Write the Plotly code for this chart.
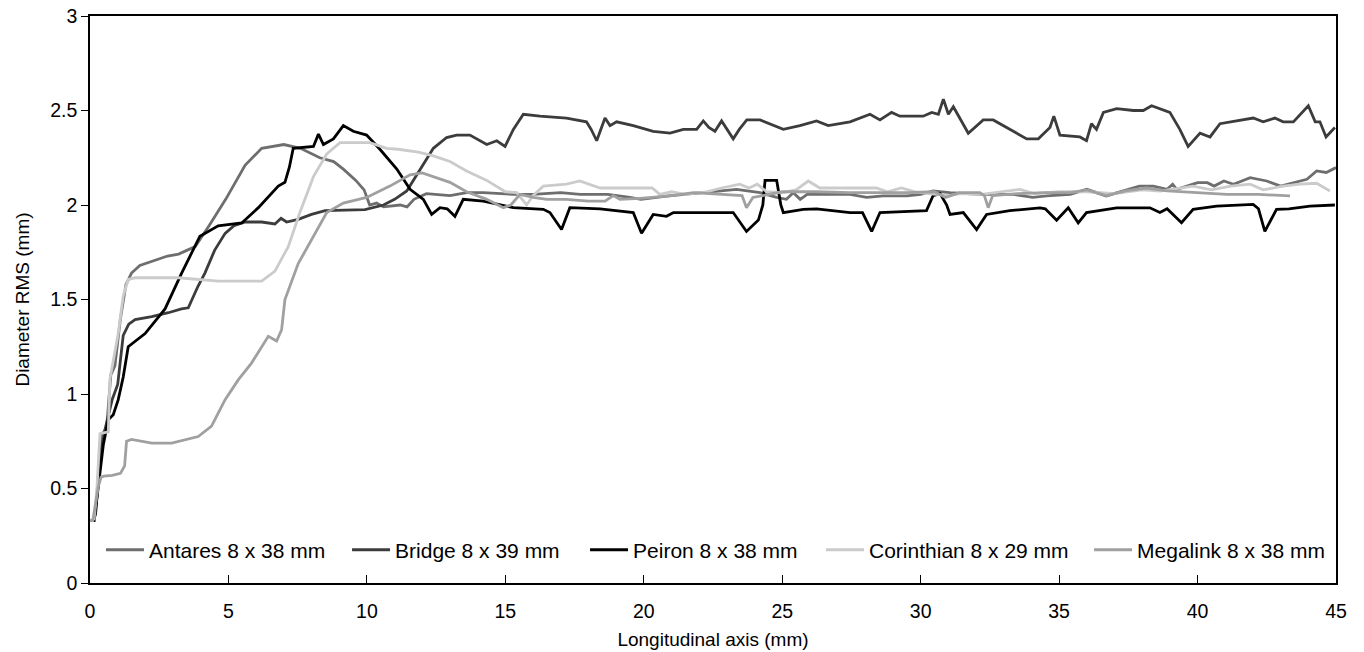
import plotly.graph_objects as go

# ---------------- data ----------------
names = ["Antares 8 x 38 mm", "Bridge 8 x 39 mm", "Peiron 8 x 38 mm",
         "Corinthian 8 x 29 mm", "Megalink 8 x 38 mm"]
colors = ["#6e6e6e", "#3c3c3c", "#000000", "#cbcbcb", "#a0a0a0"]

antares = [(0, 0.33), (0.1, 0.33), (0.2, 0.36), (0.3, 0.55), (0.4, 0.78), (0.6, 0.82), (0.75, 1.1),
           (0.9, 1.15), (1.1, 1.4), (1.3, 1.58), (1.5, 1.64), (1.8, 1.68), (2.2, 1.70), (2.8, 1.73),
           (3.2, 1.74), (3.8, 1.78), (4.3, 1.89), (4.9, 2.03), (5.6, 2.21), (6.2, 2.30), (7.0, 2.32),
           (7.6, 2.30), (8.3, 2.25), (8.8, 2.23), (9.15, 2.19), (9.6, 2.13), (9.9, 2.08), (10.1, 2.00),
           (10.35, 2.01), (10.6, 1.99), (11.2, 2.00), (11.45, 1.99), (11.7, 2.03), (12.15, 2.06),
           (13.0, 2.05), (13.6, 2.065), (14.2, 2.065), (15.3, 2.056), (16.0, 2.056), (17.0, 2.065),
           (17.7, 2.056), (18.7, 2.056), (19.5, 2.04), (19.9, 2.03), (20.9, 2.048), (22.2, 2.065),
           (23.35, 2.083), (24.2, 2.065), (24.8, 2.04), (25.15, 2.03), (25.4, 2.065), (25.65, 2.03),
           (25.9, 2.056), (27.45, 2.056), (28.05, 2.04), (28.65, 2.048), (29.5, 2.048), (30.0, 2.056),
           (30.45, 2.074), (31.05, 2.065), (32.15, 2.056), (33.35, 2.056), (34.05, 2.04), (34.55, 2.048),
           (35.4, 2.056), (36.0, 2.083), (36.7, 2.048), (37.9, 2.10), (38.4, 2.10), (38.9, 2.083),
           (39.1, 2.11), (39.25, 2.083), (40.0, 2.118), (40.35, 2.118), (40.6, 2.10), (40.95, 2.127),
           (41.3, 2.11), (41.9, 2.145), (42.5, 2.127), (43.0, 2.10), (43.45, 2.118), (43.95, 2.136),
           (44.3, 2.18), (44.65, 2.172), (45.0, 2.198)]

bridge = [(0, 0.33), (0.1, 0.33), (0.2, 0.37), (0.3, 0.52), (0.4, 0.7), (0.54, 0.81), (0.7, 0.9),
          (0.8, 0.97), (1.0, 1.05), (1.1, 1.2), (1.2, 1.31), (1.4, 1.37), (1.63, 1.394), (2.23, 1.41),
          (2.83, 1.43), (3.3, 1.45), (3.55, 1.456), (3.9, 1.57), (4.15, 1.64), (4.5, 1.76), (4.88, 1.85),
          (5.2, 1.89), (5.6, 1.91), (6.2, 1.91), (6.68, 1.90), (6.9, 1.93), (7.1, 1.91), (7.52, 1.924),
          (8.0, 1.95), (8.49, 1.97), (9.4, 1.975), (9.93, 1.975), (10.6, 2.0), (11.0, 2.03), (11.44, 2.074),
          (11.92, 2.19), (12.4, 2.30), (12.88, 2.357), (13.24, 2.37), (13.72, 2.37), (14.33, 2.32),
          (14.69, 2.34), (14.99, 2.31), (15.29, 2.40), (15.65, 2.48), (16.25, 2.47), (17.21, 2.46),
          (17.93, 2.44), (18.1, 2.40), (18.3, 2.34), (18.45, 2.40), (18.6, 2.46), (18.78, 2.42),
          (19.02, 2.44), (19.62, 2.42), (20.34, 2.39), (20.95, 2.38), (21.43, 2.40), (21.91, 2.40),
          (22.15, 2.445), (22.35, 2.41), (22.57, 2.39), (22.81, 2.445), (23.0, 2.40), (23.23, 2.35),
          (23.45, 2.40), (23.72, 2.45), (24.2, 2.45), (25.04, 2.40), (25.64, 2.42), (26.24, 2.445),
          (26.66, 2.42), (27.0, 2.43), (27.45, 2.44), (28.17, 2.48), (28.53, 2.45), (28.95, 2.49),
          (29.25, 2.47), (30.09, 2.47), (30.4, 2.49), (30.64, 2.48), (30.82, 2.56), (31.0, 2.48),
          (31.18, 2.52), (31.72, 2.38), (32.26, 2.45), (32.62, 2.45), (33.83, 2.35), (34.25, 2.35),
          (34.67, 2.41), (34.81, 2.47), (35.03, 2.37), (35.75, 2.36), (35.99, 2.34), (36.17, 2.43),
          (36.35, 2.40), (36.6, 2.49), (37.08, 2.51), (37.68, 2.50), (38.04, 2.50), (38.34, 2.525),
          (39.0, 2.49), (39.36, 2.40), (39.66, 2.31), (40.09, 2.38), (40.45, 2.36), (40.81, 2.43),
          (41.41, 2.445), (42.01, 2.46), (42.37, 2.44), (42.79, 2.46), (43.09, 2.44), (43.46, 2.44),
          (44.0, 2.525), (44.25, 2.44), (44.42, 2.44), (44.64, 2.36), (44.96, 2.41)]

peiron = [(0, 0.33), (0.15, 0.33), (0.3, 0.51), (0.48, 0.73), (0.66, 0.864), (0.84, 0.89), (1.02, 0.97),
          (1.2, 1.09), (1.38, 1.25), (1.99, 1.32), (2.71, 1.45), (3.31, 1.64), (3.97, 1.835), (4.63, 1.89),
          (5.48, 1.905), (6.08, 1.986), (6.8, 2.10), (7.04, 2.12), (7.2, 2.2), (7.34, 2.30), (8.07, 2.31),
          (8.25, 2.375), (8.43, 2.32), (8.79, 2.35), (9.15, 2.42), (9.51, 2.39), (9.99, 2.37),
          (10.47, 2.295), (11.08, 2.19), (11.56, 2.083), (12.04, 2.03), (12.34, 1.95), (12.64, 1.986),
          (12.9, 1.98), (13.18, 1.94), (13.48, 2.03), (14.2, 2.02), (15.29, 1.986), (16.37, 1.977),
          (16.61, 1.96), (17.03, 1.87), (17.33, 1.986), (18.42, 1.98), (19.62, 1.96), (19.92, 1.85),
          (20.34, 1.95), (20.82, 1.94), (21.07, 1.96), (23.23, 1.96), (23.71, 1.86), (24.14, 1.92),
          (24.3, 2.0), (24.38, 2.13), (24.8, 2.13), (24.95, 2.0), (25.04, 1.96), (25.76, 1.977),
          (26.24, 1.98), (27.45, 1.96), (27.9, 1.96), (28.23, 1.86), (28.53, 1.96), (30.21, 1.97),
          (30.45, 2.05), (30.7, 2.06), (30.94, 2.0), (31.06, 1.95), (31.54, 1.96), (32.02, 1.87),
          (32.38, 1.95), (33.22, 1.97), (34.31, 1.985), (34.5, 1.98), (34.91, 1.92), (35.33, 1.985),
          (35.69, 1.906), (35.99, 1.96), (37.08, 1.985), (38.28, 1.985), (38.64, 1.96), (38.9, 1.98),
          (39.42, 1.906), (39.84, 1.977), (40.69, 1.994), (42.01, 2.003), (42.2, 1.98), (42.43, 1.86),
          (42.85, 1.977), (43.3, 1.98), (44.06, 1.994), (44.96, 2.0)]

corinthian = [(0, 0.33), (0.15, 0.34), (0.25, 0.5), (0.36, 0.79), (0.66, 0.80), (0.72, 1.08), (1.02, 1.32),
              (1.2, 1.52), (1.38, 1.606), (1.63, 1.615), (3.19, 1.615), (4.63, 1.597), (6.2, 1.597),
              (6.68, 1.65), (7.16, 1.78), (7.58, 1.96), (8.07, 2.15), (8.55, 2.27), (9.03, 2.33),
              (10.11, 2.33), (10.71, 2.30), (11.13, 2.295), (11.86, 2.28), (12.4, 2.26), (13.0, 2.23),
              (13.6, 2.18), (14.33, 2.13), (15.0, 2.07), (15.41, 2.065), (15.77, 2.0), (16.0, 2.05),
              (16.37, 2.10), (17.21, 2.11), (17.69, 2.127), (18.42, 2.09), (19.5, 2.09), (20.3, 2.09),
              (20.58, 2.056), (21.0, 2.07), (21.5, 2.056), (22.27, 2.07), (22.8, 2.09), (23.47, 2.11),
              (23.8, 2.09), (24.1, 2.11), (24.44, 2.07), (25.0, 2.065), (25.5, 2.08), (25.94, 2.127),
              (26.36, 2.09), (27.0, 2.09), (27.81, 2.09), (28.4, 2.09), (28.8, 2.07), (29.3, 2.09),
              (29.8, 2.07), (30.3, 2.06), (31.0, 2.05), (31.42, 2.06), (32.2, 2.056), (33.0, 2.07),
              (33.59, 2.083), (34.1, 2.06), (35.0, 2.07), (36.0, 2.07), (37.0, 2.06), (38.0, 2.08),
              (38.64, 2.074), (39.84, 2.10), (40.5, 2.08), (41.2, 2.10), (41.9, 2.11), (42.37, 2.08),
              (43.09, 2.10), (43.7, 2.11), (44.3, 2.115), (44.78, 2.074)]

megalink = [(0, 0.33), (0.1, 0.33), (0.2, 0.42), (0.3, 0.51), (0.4, 0.56), (0.5, 0.565), (0.8, 0.57),
            (1.1, 0.58), (1.25, 0.62), (1.32, 0.75), (1.5, 0.76), (2.23, 0.74), (2.95, 0.74), (3.5, 0.76),
            (3.91, 0.775), (4.39, 0.83), (4.88, 0.97), (5.36, 1.076), (5.84, 1.165), (6.44, 1.305),
            (6.74, 1.28), (6.92, 1.34), (7.04, 1.50), (7.52, 1.69), (8.19, 1.87), (8.55, 1.96),
            (9.15, 2.01), (9.99, 2.04), (10.83, 2.10), (11.56, 2.16), (12.0, 2.17), (12.4, 2.15),
            (13.0, 2.12), (13.6, 2.07), (14.33, 2.03), (14.93, 1.986), (15.2, 2.0), (15.53, 2.056),
            (16.0, 2.04), (16.5, 2.03), (17.2, 2.03), (18.0, 2.02), (18.6, 2.02), (18.9, 2.05),
            (19.14, 2.03), (19.86, 2.035), (20.95, 2.048), (21.8, 2.065), (22.5, 2.06), (23.3, 2.055),
            (23.55, 2.05), (23.71, 1.986), (23.94, 2.04), (24.3, 2.05), (25.0, 2.07), (26.2, 2.07),
            (27.45, 2.065), (28.5, 2.065), (29.5, 2.065), (30.5, 2.07), (30.9, 2.04), (31.4, 2.065),
            (32.14, 2.065), (32.3, 2.05), (32.44, 1.986), (32.6, 2.05), (33.5, 2.06), (34.5, 2.065),
            (35.4, 2.065), (36.0, 2.08), (36.71, 2.05), (37.4, 2.075), (38.16, 2.09), (38.9, 2.075),
            (39.84, 2.065), (41.05, 2.056), (42.2, 2.056), (43.34, 2.048)]

series = [antares, bridge, peiron, corinthian, megalink]
x_ticks = [0, 5, 10, 15, 20, 25, 30, 35, 40, 45]
y_ticks = [0, 0.5, 1, 1.5, 2, 2.5, 3]

# ---------------- figure ----------------
FONT = "Liberation Sans, Arial, sans-serif"
legend_ids = ["legend", "legend2", "legend3", "legend4", "legend5"]
legend_x = [0.0088, 0.2063, 0.3973, 0.5867, 0.8018]

fig = go.Figure()
for name, col, data, lid in zip(names, colors, series, legend_ids):
    xs = [p[0] for p in data]
    ys = [p[1] for p in data]
    fig.add_trace(go.Scatter(x=xs, y=ys, mode="lines", name=name,
                             line=dict(color=col, width=2.8), legend=lid))

layout_legends = {}
for lid, lx in zip(legend_ids, legend_x):
    layout_legends[lid] = dict(x=lx, y=0.058, xanchor="left", yanchor="middle",
                               orientation="h", bgcolor="rgba(0,0,0,0)",
                               font=dict(family=FONT, size=21, color="black"),
                               itemwidth=38)

fig.update_layout(
    width=1364, height=652,
    margin=dict(l=90, r=28, t=16, b=69, autoexpand=False),
    paper_bgcolor="white", plot_bgcolor="white",
    font=dict(family=FONT, size=19, color="black"),
    showlegend=True,
    **layout_legends,
)
fig.update_xaxes(range=[0, 45], tickvals=x_ticks, ticks="inside", ticklen=8, tickwidth=1.2,
                 tickcolor="black", showline=True, linecolor="black", linewidth=1.5, mirror=True,
                 showgrid=False, zeroline=False, ticklabelstandoff=10, automargin=False,
                 tickfont=dict(family=FONT, size=19.5),
                 title=dict(text="Longitudinal axis (mm)", standoff=12,
                            font=dict(family=FONT, size=19)))
fig.update_yaxes(range=[0, 3], tickvals=y_ticks, ticks="outside", ticklen=7, tickwidth=1.2,
                 tickcolor="black", showline=True, linecolor="black", linewidth=1.5, mirror=True,
                 showgrid=False, zeroline=False, automargin=False,
                 tickfont=dict(family=FONT, size=19.5),
                 title=dict(text="Diameter RMS (mm)", standoff=16,
                            font=dict(family=FONT, size=19)))

fig.write_html("out.html")
